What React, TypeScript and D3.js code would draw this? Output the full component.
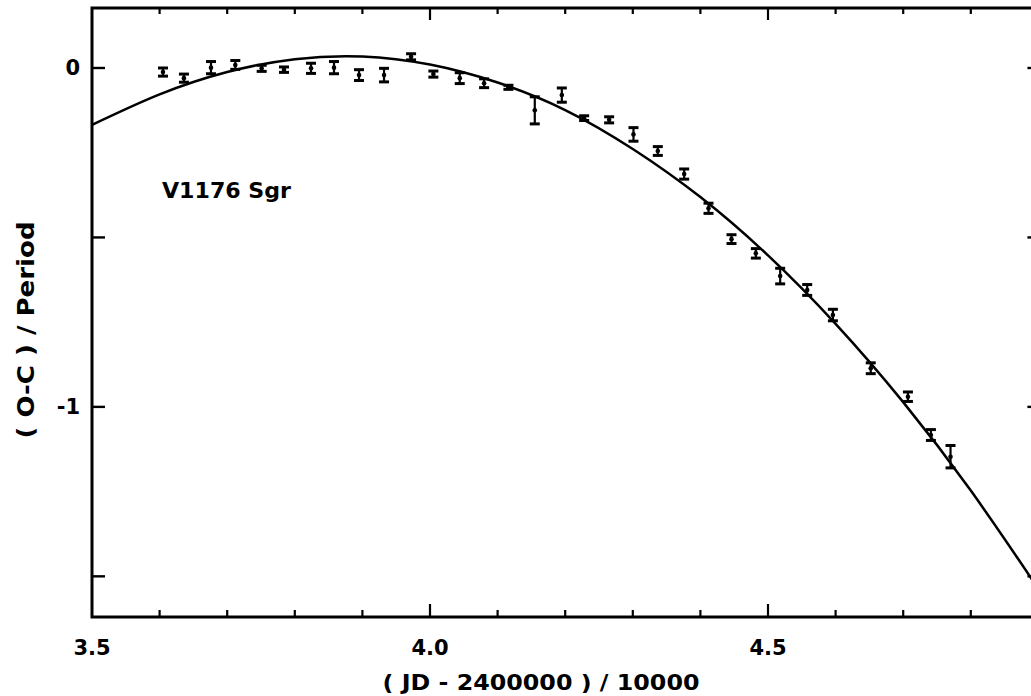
import React from 'react';
import * as d3 from 'd3';

const obsX = [3.605, 3.636, 3.676, 3.712, 3.751, 3.784, 3.824, 3.858, 3.895, 3.932, 3.972,
  4.005, 4.044, 4.080, 4.116, 4.155, 4.195, 4.228, 4.265, 4.301, 4.337,
  4.376, 4.412, 4.446, 4.482, 4.518, 4.558, 4.596,
  4.652, 4.707, 4.741, 4.770];
const obsY = [-0.012, -0.030, 0.001, 0.009, -0.001, -0.005, -0.001, 0.001, -0.021, -0.021, 0.033,
  -0.018, -0.030, -0.045, -0.057, -0.125, -0.080, -0.148, -0.153, -0.196, -0.245,
  -0.313, -0.414, -0.505, -0.547, -0.614, -0.655, -0.729,
  -0.886, -0.970, -1.083, -1.147];
const obsErr = [0.012, 0.012, 0.018, 0.013, 0.009, 0.008, 0.015, 0.018, 0.016, 0.020, 0.009,
  0.009, 0.016, 0.013, 0.006, 0.040, 0.021, 0.007, 0.009, 0.020, 0.013,
  0.015, 0.015, 0.013, 0.014, 0.023, 0.016, 0.017,
  0.016, 0.014, 0.016, 0.033];

// fitted parabola, sampled from the figure
const fitX = [3.5, 3.6, 3.7, 3.8, 3.9, 4.0, 4.1, 4.2, 4.3, 4.4, 4.5, 4.6, 4.7, 4.8, 4.9];
const fitY = [-0.168, -0.078, -0.012, 0.026, 0.034, 0.010, -0.043, -0.124, -0.239, -0.381,
  -0.553, -0.755, -0.986, -1.247, -1.537];

const xMinorTicks = d3.range(36, 49).map(d => d / 10);
const xMajorTicks = [3.5, 4.0, 4.5];
const xTickLabels = ['3.5', '4.0', '4.5'];
const yTicks = [0, -0.5, -1, -1.5];
const yTickLabels = [{ v: 0, t: '0' }, { v: -1, t: '-1' }];

const W = 1031;
const H = 696;
const FONT = '"DejaVu Sans", "Liberation Sans", Arial, sans-serif';

export default function App() {
  const x = d3.scaleLinear().domain([3.5, 4.9]).range([92, 1038.4]);
  const y = d3.scaleLinear().domain([-1.62, 0.177]).range([617, 8]);
  const [x0, x1] = x.range();
  const [yb, yt] = y.range();

  const fitLine = d3.line<number>()
    .x((_, i) => x(fitX[i]))
    .y(d => y(d))
    .curve(d3.curveNatural);

  return (
    <svg width={W} height={H} style={{ position: 'absolute', left: 0, top: 0, background: '#fff' }}>
      {/* fitted curve */}
      <path d={fitLine(fitY) || ''} fill="none" stroke="#000" strokeWidth={2.5} />

      {/* observations with error bars */}
      {obsX.map((d, i) => {
        const cx = x(d);
        const ylo = y(obsY[i] - obsErr[i]);
        const yhi = y(obsY[i] + obsErr[i]);
        return (
          <g key={i} stroke="#000">
            <line x1={cx} x2={cx} y1={ylo} y2={yhi} strokeWidth={2.2} />
            <line x1={cx - 5} x2={cx + 5} y1={ylo} y2={ylo} strokeWidth={3} />
            <line x1={cx - 5} x2={cx + 5} y1={yhi} y2={yhi} strokeWidth={3} />
            <circle cx={cx} cy={y(obsY[i])} r={2.3} fill="#000" stroke="none" />
          </g>
        );
      })}

      {/* x ticks, bottom and top */}
      {xMinorTicks.map(t => {
        const major = xMajorTicks.some(m => Math.abs(m - t) < 1e-6);
        const px = x(t);
        return (
          <g key={t} stroke="#000" strokeWidth={2.2}>
            <line x1={px} x2={px} y1={yb} y2={yb - (major ? 13 : 7)} />
            <line x1={px} x2={px} y1={yt} y2={yt + (major ? 12 : 6)} />
          </g>
        );
      })}

      {/* y ticks, left and right */}
      {yTicks.map(t => (
        <g key={t} stroke="#000" strokeWidth={2.4}>
          <line x1={x0} x2={x0 + 13} y1={y(t)} y2={y(t)} />
          <line x1={x1} x2={x1 - 11} y1={y(t)} y2={y(t)} />
        </g>
      ))}

      {/* frame */}
      <rect x={x0} y={yt} width={x1 - x0} height={yb - yt} fill="none" stroke="#000" strokeWidth={3} />

      {/* tick labels */}
      <g fontFamily={FONT} fontWeight="bold" fontSize={21} fill="#000">
        {xMajorTicks.map((t, i) => (
          <text key={t} x={x(t)} y={655} textAnchor="middle">{xTickLabels[i]}</text>
        ))}
        {yTickLabels.map(d => (
          <text key={d.v} x={80} y={y(d.v) + 7.5} textAnchor="end">{d.t}</text>
        ))}
      </g>

      {/* star name */}
      <text x={162} y={198} fontFamily={FONT} fontWeight="bold" fontSize={21}
        textLength={129} lengthAdjust="spacingAndGlyphs">V1176 Sgr</text>

      {/* axis titles */}
      <text x={541} y={690} textAnchor="middle" fontFamily={FONT} fontWeight="bold" fontSize={22}
        textLength={317} lengthAdjust="spacingAndGlyphs">( JD - 2400000 ) / 10000</text>
      <text transform="translate(34,330) rotate(-90)" textAnchor="middle" fontFamily={FONT}
        fontWeight="bold" fontSize={23} textLength={217} lengthAdjust="spacingAndGlyphs">( O-C ) / Period</text>
    </svg>
  );
}
